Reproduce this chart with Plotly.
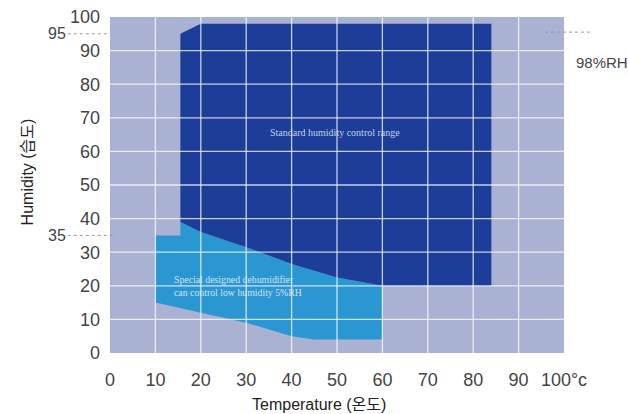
import plotly.graph_objects as go

# ---- data ----
temp_ticks = [0, 10, 20, 30, 40, 50, 60, 70, 80, 90, 100]
temp_labels = ["0", "10", "20", "30", "40", "50", "60", "70", "80", "90", "100°c"]
hum_ticks = [0, 10, 20, 30, 40, 50, 60, 70, 80, 90, 100]
hum_labels = ["0", "10", "20", "30", "40", "50", "60", "70", "80", "90", "100"]

# Standard humidity control range (dark region)
std_temp = [15.5, 20, 84, 84, 60, 50, 40, 30, 20, 15.5]
std_hum = [95, 98, 98, 20, 20, 22.5, 26.5, 31.5, 36, 39]

# Specially designed dehumidifier range (light region)
dehum_temp = [10, 15.5, 15.5, 20, 30, 40, 50, 60, 60, 45, 40, 35, 30, 20, 10]
dehum_hum = [35, 35, 39, 36, 31.5, 26.5, 22.5, 20, 4, 4, 5, 7, 9, 12, 15]

grid_vals = [10, 20, 30, 40, 50, 60, 70, 80, 90]

# ---- styles ----
BG = "#a9b2d3"
DARK = "#1c3e98"
LIGHT = "#2b97d2"
GRID = "rgba(255,255,255,0.75)"
TXT = "#444444"
SANS = "Liberation Sans Narrow, Liberation Sans, Arial, sans-serif"
TITLE_FONT = "Liberation Sans, Noto Sans CJK KR, sans-serif"
SERIF = "Liberation Serif, DejaVu Serif, serif"

fig = go.Figure()
fig.add_trace(go.Scatter(x=dehum_temp, y=dehum_hum, fill="toself", mode="lines",
                         line=dict(width=0), fillcolor=LIGHT, hoverinfo="skip",
                         showlegend=False))
fig.add_trace(go.Scatter(x=std_temp, y=std_hum, fill="toself", mode="lines",
                         line=dict(width=0), fillcolor=DARK, hoverinfo="skip",
                         showlegend=False))

shapes = []
for v in grid_vals:
    shapes.append(dict(type="line", xref="x", yref="paper", x0=v, x1=v, y0=0, y1=1,
                       line=dict(color=GRID, width=1.3), layer="above"))
    shapes.append(dict(type="line", xref="paper", yref="y", x0=0, x1=1, y0=v, y1=v,
                       line=dict(color=GRID, width=1.3), layer="above"))
# dotted reference lines
shapes.append(dict(type="line", xref="paper", yref="y", x0=-0.093, x1=0.0, y0=95, y1=95,
                   line=dict(color="#999", width=1, dash="dot")))
shapes.append(dict(type="line", xref="paper", yref="y", x0=-0.093, x1=0.011, y0=35, y1=35,
                   line=dict(color="#999", width=1, dash="dot")))
shapes.append(dict(type="line", xref="paper", yref="y", x0=0.958, x1=1.064, y0=95.5, y1=95.5,
                   line=dict(color="#999", width=1, dash="dot")))

annotations = [
    dict(text="95", xref="paper", yref="y", x=-0.117, y=95, xanchor="center",
         showarrow=False, font=dict(family=SANS, size=16, color=TXT)),
    dict(text="35", xref="paper", yref="y", x=-0.117, y=35, xanchor="center",
         showarrow=False, font=dict(family=SANS, size=16, color=TXT)),
    dict(text="98%RH", xref="paper", yref="paper", x=1.022, y=0.896, xanchor="left",
         showarrow=False, font=dict(family=SANS, size=15, color=TXT)),
    dict(text="Humidity (습도)", xref="paper", yref="paper", x=-0.181, y=0.54,
         xanchor="center", yanchor="middle", textangle=-90, showarrow=False,
         font=dict(family=TITLE_FONT, size=16, color="#222")),
    dict(text="Temperature (온도)", xref="paper", yref="paper", x=0.46, y=-0.152,
         xanchor="center", yanchor="middle", showarrow=False,
         font=dict(family=TITLE_FONT, size=16, color="#222")),
    dict(text="Standard humidity control range", xref="x", yref="y", x=49.5, y=65.5,
         showarrow=False, font=dict(family=SERIF, size=10, color="rgba(220,226,246,0.9)")),
    dict(text="Special designed dehumidifier<br>can control low humidity 5%RH",
         xref="x", yref="y", x=13.6, y=20, xanchor="left", align="left",
         showarrow=False, font=dict(family=SERIF, size=9.8, color="rgba(228,238,250,0.9)")),
]

fig.update_layout(
    width=628, height=414,
    margin=dict(l=110, r=64, t=17, b=61, autoexpand=False),
    paper_bgcolor="white", plot_bgcolor=BG,
    shapes=shapes, annotations=annotations,
    xaxis=dict(range=[0, 100], tickvals=temp_ticks, ticktext=temp_labels,
               showgrid=False, zeroline=False, showline=False, ticks="",
               automargin=False, ticklabelstandoff=14, ticklabeloverflow="allow",
               tickfont=dict(family=SANS, size=18, color=TXT)),
    yaxis=dict(range=[0, 100], tickvals=hum_ticks, ticktext=hum_labels,
               showgrid=False, zeroline=False, showline=False, ticks="",
               automargin=False, ticklabelstandoff=9, ticklabeloverflow="allow",
               tickfont=dict(family=SANS, size=18, color=TXT)),
)

# remove the default page margin so the figure fills the window exactly
fig.write_html("out.html", config={"displayModeBar": False},
               post_script="document.body.style.margin='0px';document.body.style.overflow='hidden';")
